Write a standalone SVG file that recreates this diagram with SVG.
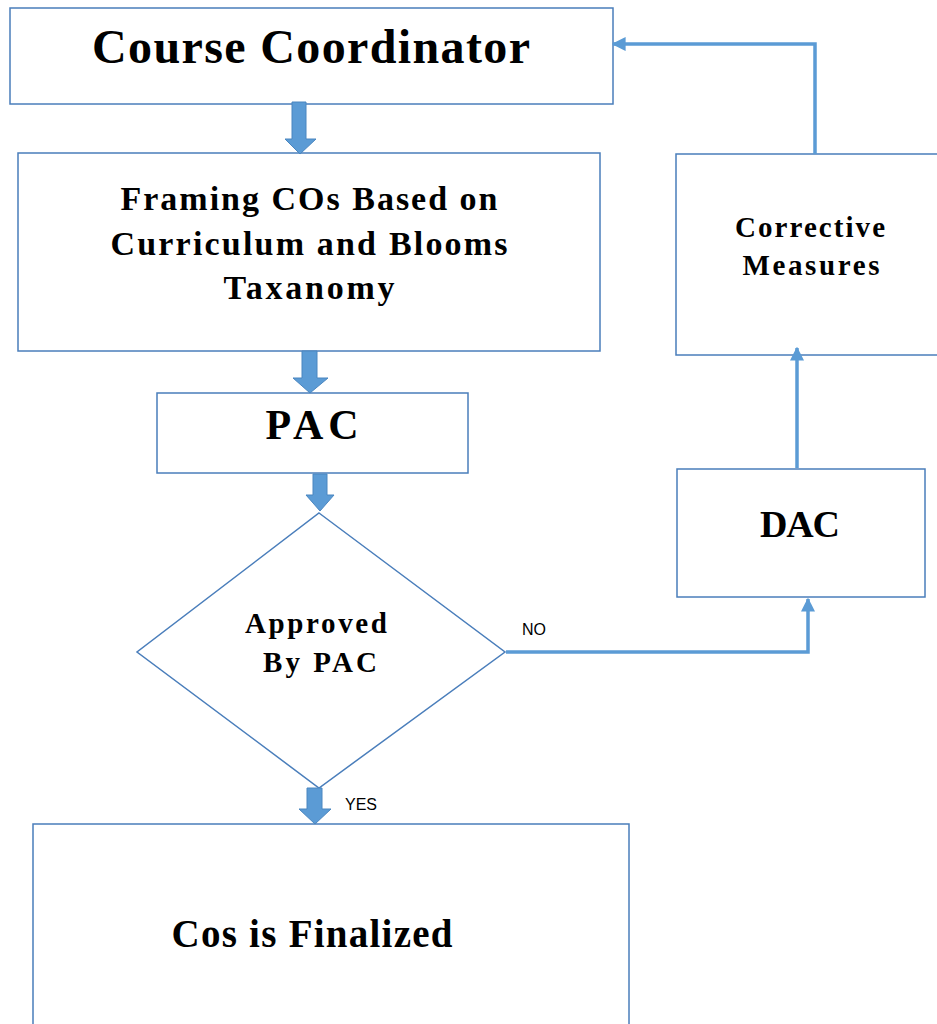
<svg xmlns="http://www.w3.org/2000/svg" width="937" height="1024" viewBox="0 0 937 1024">
<defs>
<style>
.box{fill:#ffffff;stroke:#4a7ebb;stroke-width:1.5}
.t{font-family:"Liberation Serif","Times New Roman",serif;font-weight:bold;fill:#000;text-anchor:middle}
.lbl{font-family:"Liberation Sans",Arial,sans-serif;font-size:16px;fill:#000}
.blk{fill:#5b9bd5;stroke:#4a86c0;stroke-width:1}
.ln{fill:none;stroke:#5b9bd5;stroke-width:3.5}
</style>
<marker id="ah" viewBox="0 0 10 10" refX="9" refY="5" markerWidth="4" markerHeight="4" orient="auto" markerUnits="strokeWidth">
<path d="M0,0 L10,5 L0,10 z" fill="#5b9bd5"/>
</marker>
</defs>
<rect width="937" height="1024" fill="#ffffff"/>
<g id="course-coordinator">
<rect class="box" x="10" y="8" width="603" height="96"/>
<text class="t" x="311" y="63" font-size="48" textLength="438" lengthAdjust="spacing">Course Coordinator</text>
</g>
<g id="framing">
<rect class="box" x="18" y="153" width="582" height="198"/>
<text class="t" x="309" y="210" font-size="34" textLength="377" lengthAdjust="spacing">Framing COs Based on</text>
<text class="t" x="309" y="255" font-size="34" textLength="397" lengthAdjust="spacing">Curriculum and Blooms</text>
<text class="t" x="309" y="299" font-size="34" textLength="171" lengthAdjust="spacing">Taxanomy</text>
</g>
<g id="pac">
<rect class="box" x="157" y="393" width="311" height="80"/>
<text class="t" x="312" y="439" font-size="42" textLength="93" lengthAdjust="spacing">PAC</text>
</g>
<g id="approved">
<polygon class="box" points="319,513 505,652 319,788 137,652"/>
<text class="t" x="316" y="633" font-size="29" textLength="142" lengthAdjust="spacing">Approved</text>
<text class="t" x="320" y="672" font-size="29" textLength="114" lengthAdjust="spacing">By PAC</text>
</g>
<g id="finalized">
<rect class="box" x="33" y="824" width="596" height="210"/>
<text class="t" x="312" y="947" font-size="39" textLength="281" lengthAdjust="spacing">Cos is Finalized</text>
</g>
<g id="corrective">
<rect class="box" x="676" y="154" width="270" height="201"/>
<text class="t" x="810" y="237" font-size="29" textLength="150" lengthAdjust="spacing">Corrective</text>
<text class="t" x="811" y="275" font-size="29" textLength="137" lengthAdjust="spacing">Measures</text>
</g>
<g id="dac">
<rect class="box" x="677" y="469" width="248" height="128"/>
<text class="t" x="800" y="537" font-size="38" textLength="80" lengthAdjust="spacing">DAC</text>
</g>
<g id="connectors">
<polygon class="blk" points="292,102 306,102 306,139 316,139 300,154 285,139 292,139"/>
<polygon class="blk" points="302,351 317,351 317,378 328,378 310,393 293,378 302,378"/>
<polygon class="blk" points="313,474 327,474 327,495 334,495 320,511 306,495 313,495"/>
<polygon class="blk" points="307,788 322,788 322,809 331,809 315,824 299,809 307,809"/>
<polyline class="ln" points="506,652 808,652 808,599" marker-end="url(#ah)"/>
<line class="ln" x1="797" y1="468" x2="797" y2="348" marker-end="url(#ah)"/>
<polyline class="ln" points="815,154 815,44 613,44" marker-end="url(#ah)"/>
<text class="lbl" x="522" y="635">NO</text>
<text class="lbl" x="345" y="810">YES</text>
</g>
</svg>
